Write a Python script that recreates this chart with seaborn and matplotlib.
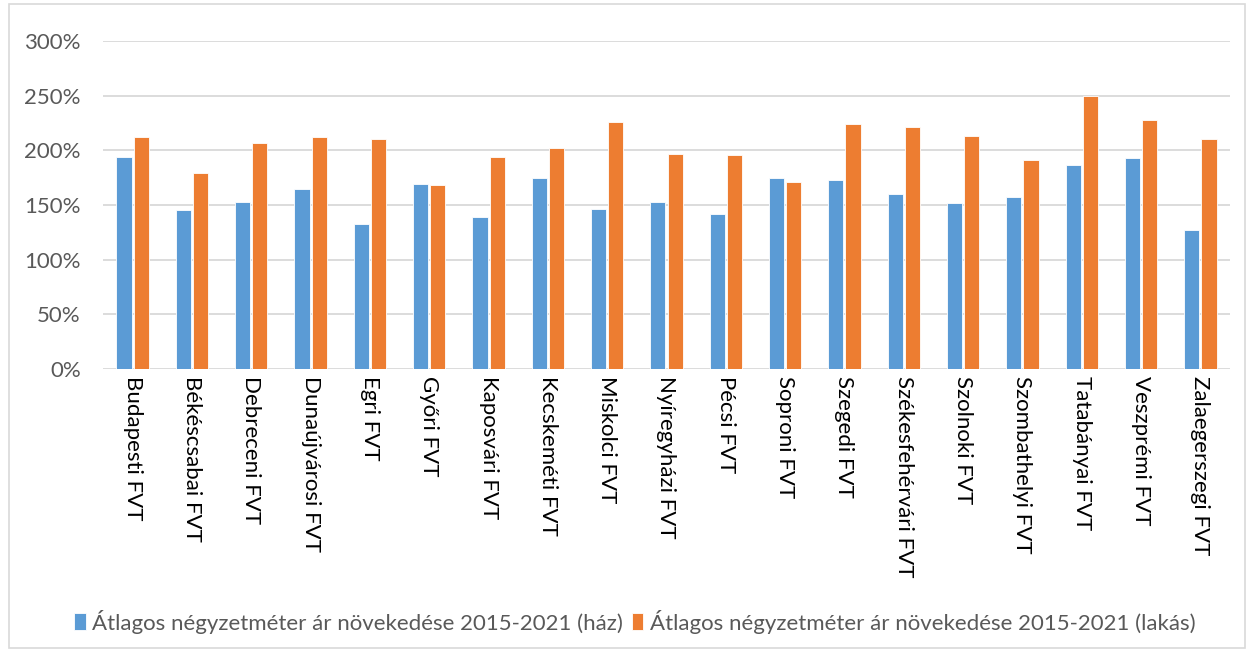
import matplotlib
matplotlib.use("Agg")
import matplotlib.pyplot as plt
import seaborn as sns
import pandas as pd
from matplotlib.ticker import FuncFormatter
from matplotlib.patches import Rectangle

categories = ["Budapesti FVT", "Békéscsabai FVT", "Debreceni FVT", "Dunaújvárosi FVT",
              "Egri FVT", "Győri FVT", "Kaposvári FVT", "Kecskeméti FVT", "Miskolci FVT",
              "Nyíregyházi FVT", "Pécsi FVT", "Soproni FVT", "Szegedi FVT",
              "Székesfehérvári FVT", "Szolnoki FVT", "Szombathelyi FVT", "Tatabányai FVT",
              "Veszprémi FVT", "Zalaegerszegi FVT"]
haz = [194, 145, 153, 165, 133, 169, 139, 175, 146, 153, 142, 175, 173, 160, 152, 157, 187, 193, 127]
lakas = [212, 179, 207, 212, 210, 168, 194, 202, 226, 197, 196, 171, 224, 221, 213, 191, 250, 228, 210]
series_names = ["Átlagos négyzetméter ár növekedése 2015-2021 (ház)",
                "Átlagos négyzetméter ár növekedése 2015-2021 (lakás)"]
colors = ["#5B9BD5", "#ED7D31"]

df = pd.DataFrame({
    "cat": categories * 2,
    "val": haz + lakas,
    "series": [series_names[0]] * len(categories) + [series_names[1]] * len(categories),
})

sns.set_theme(style="white")
plt.rcParams["font.family"] = ["Lato", "DejaVu Sans"]

fig = plt.figure(figsize=(12.49, 6.52), dpi=100)
ax = fig.add_axes([103 / 1249, 1 - 369 / 652, (1230 - 103) / 1249, (369 - 41) / 652])

sns.barplot(data=df, x="cat", y="val", hue="series", palette=colors, ax=ax,
            width=0.58, gap=0.12, saturation=1, edgecolor="white", linewidth=0.6, legend=True)

ax.set_ylim(0, 300)
ax.set_yticks(range(0, 301, 50))
ax.yaxis.set_major_formatter(FuncFormatter(lambda v, p: f"{int(v)}%"))
ax.set_xlim(-0.5, len(categories) - 0.5)
ax.grid(axis="y", color="#d9d9d9", linewidth=1.3)
ax.set_axisbelow(True)
for s in ax.spines.values():
    s.set_visible(False)
ax.set_xlabel("")
ax.set_ylabel("")
ax.tick_params(axis="y", length=0, labelsize=16, labelcolor="#595959", pad=16)
ax.tick_params(axis="x", length=0, labelsize=16, labelcolor="#000000", pad=5)
for lbl in ax.get_xticklabels():
    lbl.set_rotation(270)
    lbl.set_va("top")
    lbl.set_ha("center")

leg = ax.legend(loc="center", bbox_to_anchor=(0.472, -0.77), ncol=2, frameon=False,
                fontsize=16, handlelength=0.5, handleheight=0.8, handletextpad=0.3,
                columnspacing=0.4, labelcolor="#595959")

fig.add_artist(Rectangle((9 / 1249, 4 / 652), 1236 / 1249, 644 / 652, transform=fig.transFigure,
                         fill=False, edgecolor="#d9d9d9", linewidth=1.2))

fig.savefig("out.png", dpi=100)
